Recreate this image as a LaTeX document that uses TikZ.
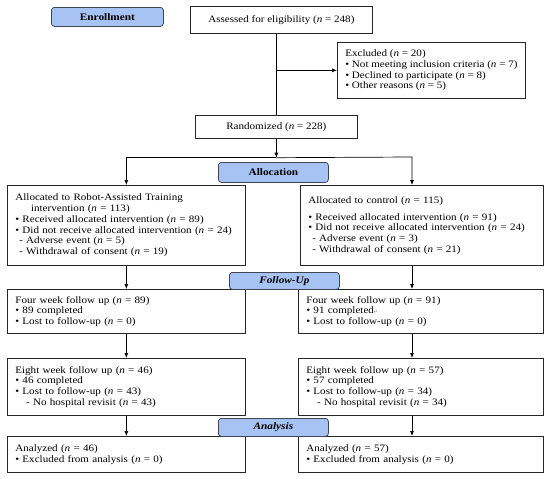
\documentclass[tikz,border=0pt]{standalone}
\usepackage{fontspec}
\setmainfont{Liberation Serif}[FakeStretch=1.13]
\newfontfamily\symfont{DejaVu Sans}
\usetikzlibrary{arrows.meta,calc}

\definecolor{stagefill}{HTML}{A6C3F3}
\definecolor{stageline}{HTML}{3C4656}
\newcommand{\ncount}[1]{(\textit{n} = #1)}

\tikzset{
  flowbox/.style={draw=black!85, line width=0.7pt, anchor=north west, align=left,
                  inner xsep=8pt, inner ysep=2pt, font=\fontsize{9.8}{10.7}\selectfont},
  stage/.style={draw=stageline, fill=stagefill, rounded corners=3pt, line width=0.8pt,
                anchor=north west, inner sep=0pt, font=\fontsize{10}{12}\selectfont\bfseries},
  arr/.style={-{Latex[length=5pt,width=4pt]}, line width=0.7pt},
}

\begin{document}
\begin{tikzpicture}[x=1pt, y=-1pt]
\useasboundingbox (0,0) rectangle (550,479);

% enrollment
\node[flowbox, minimum width=182pt, minimum height=27pt, align=center] (assess) at (190,6)
  {Assessed for eligibility \ncount{248}};
\node[flowbox, minimum width=188pt, minimum height=56pt] (excl) at (337,42)
  {Excluded \ncount{20}\\
   • Not meeting inclusion criteria \ncount{7}\\
   • Declined to participate \ncount{8}\\
   • Other reasons \ncount{5}};
\node[flowbox, minimum width=162pt, minimum height=23pt, align=center] (rand) at (195,115)
  {Randomized \ncount{228}};

% allocation
\node[flowbox, text width=222pt, minimum height=80pt] (allocL) at (7,185)
  {Allocated to Robot-Assisted Training\\
   \hspace*{1.6em}intervention \ncount{113}\\
   • Received allocated intervention \ncount{89}\\
   • Did not receive allocated intervention \ncount{24}\\
   \hspace*{0.4em}- Adverse event \ncount{5}\\
   \hspace*{0.4em}- Withdrawal of consent \ncount{19}};
\node[flowbox, text width=227pt, minimum height=80pt] (allocR) at (300,185)
  {Allocated to control \ncount{115}\\[6pt]
   • Received allocated intervention \ncount{91}\\
   • Did not receive allocated intervention \ncount{24}\\
   \hspace*{0.4em}- Adverse event \ncount{3}\\
   \hspace*{0.4em}- Withdrawal of consent \ncount{21}};

% follow-up
\node[flowbox, text width=222pt, minimum height=44pt] (fourL) at (7,289)
  {Four week follow up \ncount{89}\\
   • 89 completed\\
   • Lost to follow-up \ncount{0}};
\node[flowbox, text width=229pt, minimum height=44pt] (fourR) at (298,289)
  {Four week follow up \ncount{91}\\
   • 91 completed{\symfont\color{gray}\fontsize{5}{5}\selectfont ↵}\\
   • Lost to follow-up \ncount{0}};
\node[flowbox, text width=222pt, minimum height=57pt] (eightL) at (7,358)
  {Eight week follow up \ncount{46}\\
   • 46 completed\\
   • Lost to follow-up \ncount{43}\\
   \hspace*{1.1em}- No hospital revisit \ncount{43}};
\node[flowbox, text width=229pt, minimum height=57pt] (eightR) at (298,358)
  {Eight week follow up \ncount{57}\\
   • 57 completed\\
   • Lost to follow-up \ncount{34}\\
   \hspace*{1.1em}- No hospital revisit \ncount{34}};

% analysis
\node[flowbox, text width=222pt, minimum height=36pt] (anaL) at (7,436)
  {Analyzed \ncount{46}\\
   • Excluded from analysis \ncount{0}};
\node[flowbox, text width=229pt, minimum height=36pt] (anaR) at (298,436)
  {Analyzed \ncount{57}\\
   • Excluded from analysis \ncount{0}};

% stage labels
\node[stage, minimum width=112pt, minimum height=19pt] (enroll) at (51,7) {Enrollment};
\node[stage, minimum width=110pt, minimum height=20pt] (allocation) at (218,162) {Allocation};
\node[stage, minimum width=110pt, minimum height=17pt] (followup) at (229,272) {\itshape Follow-Up};
\node[stage, minimum width=110pt, minimum height=18pt] (analysis) at (218,418) {\itshape Analysis};

% connectors
\coordinate (split) at ($(rand.south)+(0,19)$);
\coordinate (rcol) at (412,157);

\draw[line width=0.7pt] (assess.south -| rand.north) -- (rand.north);
\draw[arr] (rand.north |- excl.west) -- (excl.west);
\draw[arr] (rand.south) -- (split);
\draw[arr] (split) -| (allocL.north);
\draw[arr] (split) -- (rcol) -- (rcol |- allocR.north);

\draw[arr] (allocL.south) -- (fourL.north);
\draw[arr] (fourL.south) -- (eightL.north);
\draw[arr] (eightL.south) -- (anaL.north);
\draw[arr] (allocR.south -| rcol) -- (fourR.north -| rcol);
\draw[arr] (fourR.south -| rcol) -- (eightR.north -| rcol);
\draw[arr] (eightR.south -| rcol) -- (anaR.north -| rcol);
\end{tikzpicture}
\end{document}
